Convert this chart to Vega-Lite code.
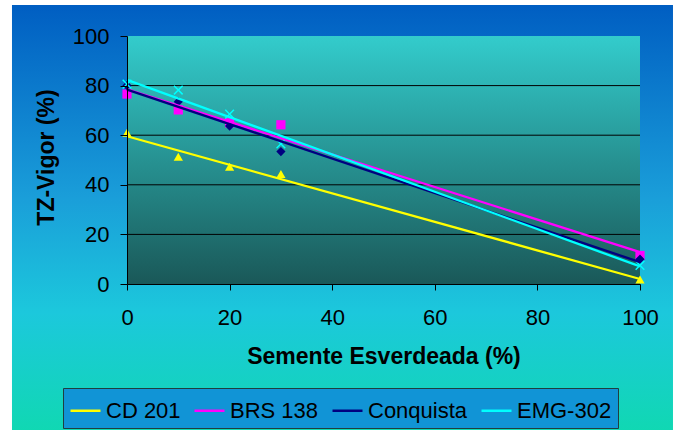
{
  "$schema": "https://vega.github.io/schema/vega-lite/v6.json",
  "width": 513,
  "height": 248,
  "autosize": {"type": "none"},
  "padding": {"left": 127, "top": 36, "right": 39, "bottom": 146},
  "background": "white",
  "config": {
    "font": "Liberation Sans",
    "view": {"stroke": null},
    "axis": {
      "grid": false,
      "tickCount": 5,
      "domainColor": "black",
      "tickColor": "black",
      "labelFontSize": 22,
      "labelColor": "black",
      "labelFlush": false,
      "labelOverlap": false,
      "titleFontSize": 23,
      "titleFontWeight": "bold",
      "titleColor": "black",
      "titleBaseline": "alphabetic"
    },
    "axisX": {"tickSize": 6, "labelBaseline": "alphabetic", "labelPadding": 34, "titleY": 79},
    "axisY": {"tickSize": 7, "labelPadding": 11, "titleX": -74, "titleY": 121}
  },
  "datasets": {
    "points": [
      {"series": "CD 201", "x": 0, "y": 61},
      {"series": "CD 201", "x": 10, "y": 51.3},
      {"series": "CD 201", "x": 20, "y": 47.3},
      {"series": "CD 201", "x": 30, "y": 44.4},
      {"series": "CD 201", "x": 100, "y": 1.8},
      {"series": "BRS 138", "x": 0, "y": 76.6},
      {"series": "BRS 138", "x": 10, "y": 70.2},
      {"series": "BRS 138", "x": 20, "y": 65},
      {"series": "BRS 138", "x": 30, "y": 64.2},
      {"series": "BRS 138", "x": 100, "y": 11.5},
      {"series": "Conquista", "x": 0, "y": 80},
      {"series": "Conquista", "x": 10, "y": 73.5},
      {"series": "Conquista", "x": 20, "y": 63.7},
      {"series": "Conquista", "x": 30, "y": 53.4},
      {"series": "Conquista", "x": 100, "y": 10},
      {"series": "EMG-302", "x": 0, "y": 80.6},
      {"series": "EMG-302", "x": 10, "y": 78.2},
      {"series": "EMG-302", "x": 20, "y": 68.5},
      {"series": "EMG-302", "x": 30, "y": 56.5},
      {"series": "EMG-302", "x": 100, "y": 7.5}
    ],
    "grid": [{"v": 20}, {"v": 40}, {"v": 60}, {"v": 80}]
  },
  "layer": [
    {
      "data": {"values": [{}]},
      "mark": {
        "type": "rect",
        "clip": false,
        "fill": {
          "gradient": "linear", "x1": 0, "y1": 0, "x2": 0, "y2": 1,
          "stops": [
            {"offset": 0, "color": "#005EC2"},
            {"offset": 0.45, "color": "#1A9ED9"},
            {"offset": 0.72, "color": "#1CC8DC"},
            {"offset": 1, "color": "#10D8B2"}
          ]
        }
      },
      "encoding": {
        "x": {
          "datum": -22.42, "type": "quantitative",
          "scale": {"domain": [0, 100], "nice": false, "zero": false},
          "axis": {"title": "Semente Esverdeada (%)", "zindex": 2}
        },
        "x2": {"datum": 106.43},
        "y": {
          "datum": 112.5, "type": "quantitative",
          "scale": {"domain": [0, 100], "nice": false, "zero": false},
          "axis": {"title": "TZ-Vigor (%)", "zindex": 2}
        },
        "y2": {"datum": -60}
      }
    },
    {
      "data": {"values": [{}]},
      "mark": {
        "type": "rect",
        "fill": {
          "gradient": "linear", "x1": 0, "y1": 0, "x2": 0, "y2": 1,
          "stops": [
            {"offset": 0, "color": "#33CCCC"},
            {"offset": 1, "color": "#1A5858"}
          ]
        }
      },
      "encoding": {
        "x": {"datum": 0, "type": "quantitative", "axis": {"title": "Semente Esverdeada (%)", "zindex": 2}},
        "x2": {"datum": 100},
        "y": {"datum": 100, "type": "quantitative", "axis": {"title": "TZ-Vigor (%)", "zindex": 2}},
        "y2": {"datum": 0}
      }
    },
    {
      "data": {"name": "grid"},
      "mark": {"type": "rule", "color": "black", "strokeWidth": 1},
      "encoding": {
        "y": {"field": "v", "type": "quantitative", "axis": {"title": "TZ-Vigor (%)", "zindex": 2}}
      }
    },
    {
      "data": {"name": "points"},
      "transform": [{"filter": "datum.series !== 'EMG-302'"}],
      "mark": {"type": "point", "filled": true, "size": 85, "opacity": 1},
      "encoding": {
        "x": {"field": "x", "type": "quantitative", "axis": {"title": "Semente Esverdeada (%)", "zindex": 2}},
        "y": {"field": "y", "type": "quantitative", "axis": {"title": "TZ-Vigor (%)", "zindex": 2}},
        "color": {
          "field": "series", "type": "nominal",
          "scale": {"domain": ["CD 201", "BRS 138", "Conquista", "EMG-302"], "range": ["#FFFF00", "#FF00FF", "#000080", "#00FFFF"]}
        },
        "shape": {
          "field": "series", "type": "nominal",
          "scale": {"domain": ["CD 201", "BRS 138", "Conquista"], "range": ["triangle-up", "square", "diamond"]},
          "legend": null
        }
      }
    },
    {
      "data": {"name": "points"},
      "transform": [{"filter": "datum.series === 'EMG-302'"}],
      "mark": {"type": "point", "filled": false, "shape": "M-1,-1L1,1M1,-1L-1,1", "size": 75, "strokeWidth": 1.5, "opacity": 1, "color": "#00FFFF"},
      "encoding": {
        "x": {"field": "x", "type": "quantitative", "axis": {"title": "Semente Esverdeada (%)", "zindex": 2}},
        "y": {"field": "y", "type": "quantitative", "axis": {"title": "TZ-Vigor (%)", "zindex": 2}}
      }
    },
    {
      "data": {"name": "points"},
      "transform": [{"regression": "y", "on": "x", "groupby": ["series"], "extent": [0, 100]}],
      "mark": {"type": "line", "strokeWidth": 2.3},
      "encoding": {
        "x": {"field": "x", "type": "quantitative", "axis": {"title": "Semente Esverdeada (%)", "zindex": 2}},
        "y": {"field": "y", "type": "quantitative", "axis": {"title": "TZ-Vigor (%)", "zindex": 2}},
        "color": {
          "field": "series", "type": "nominal",
          "scale": {"domain": ["CD 201", "BRS 138", "Conquista", "EMG-302"], "range": ["#FFFF00", "#FF00FF", "#000080", "#00FFFF"]},
          "legend": {
            "orient": "none",
            "legendX": -64,
            "legendY": 352,
            "direction": "horizontal",
            "title": null,
            "symbolType": "stroke",
            "symbolSize": 900,
            "symbolStrokeWidth": 2.5,
            "labelFontSize": 22,
            "labelColor": "black",
            "labelOffset": 4,
            "columnPadding": 8,
            "padding": 6,
            "fillColor": "#1194D6",
            "strokeColor": "#1F3F3F"
          }
        }
      }
    }
  ]
}
